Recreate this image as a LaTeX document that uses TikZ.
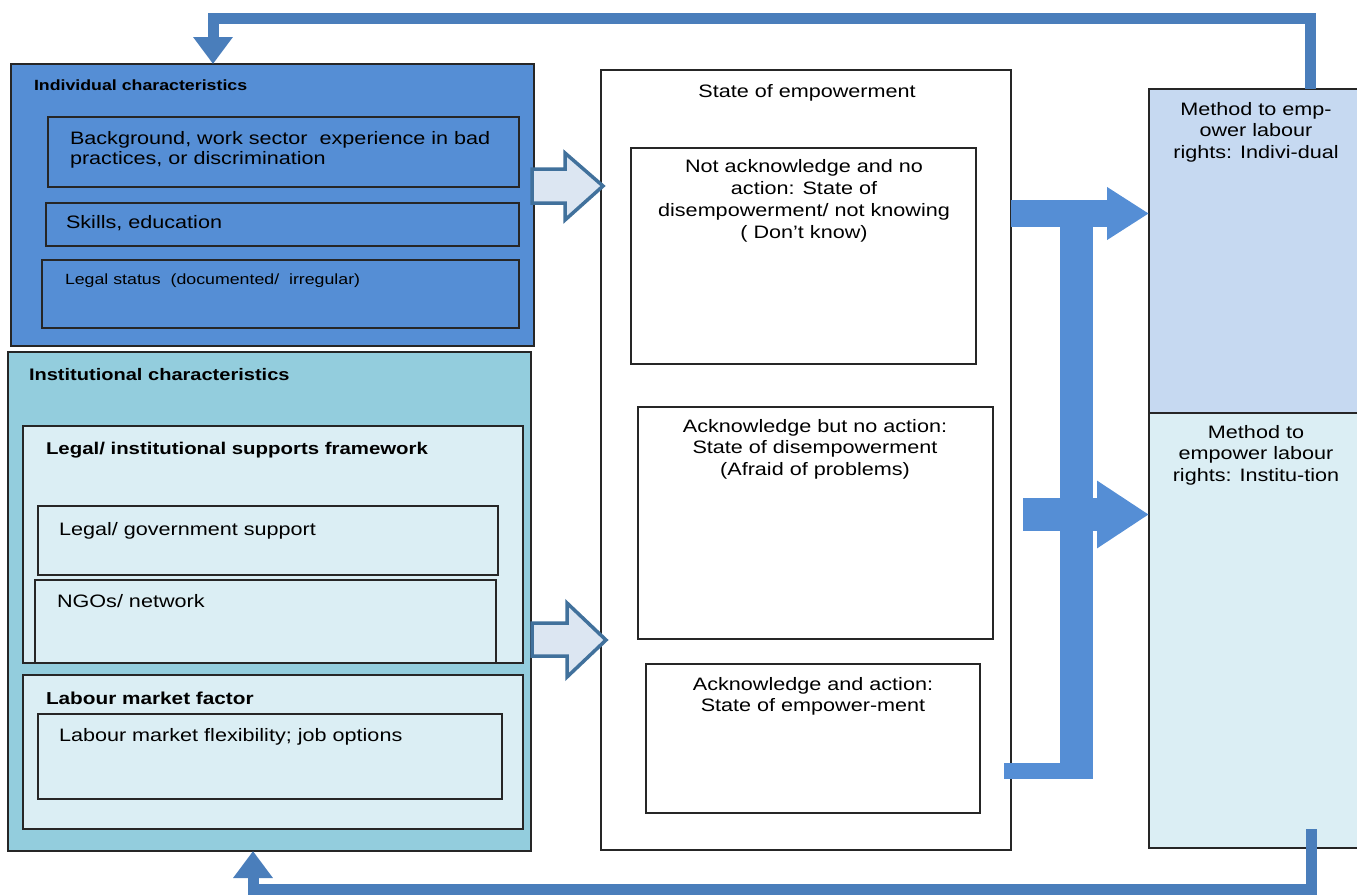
\documentclass[tikz,border=0pt]{standalone}
\usepackage{fontspec}
\setmainfont{Liberation Sans}[FakeStretch=1.2]
\usetikzlibrary{arrows.meta,calc}
\definecolor{indivc}{HTML}{558ED5}
\definecolor{instc}{HTML}{93CDDD}
\definecolor{lightc}{HTML}{DBEEF4}
\definecolor{methc}{HTML}{C6D9F1}
\definecolor{hollowf}{HTML}{DCE6F2}
\definecolor{hollowd}{HTML}{41719C}
\definecolor{fbc}{HTML}{4A7EBB}
\definecolor{solidc}{HTML}{558ED5}
\definecolor{linec}{HTML}{262626}
\begin{document}
\begin{tikzpicture}[x=1pt,y=-1pt,
  box/.style={draw=linec, line width=1.3pt, inner sep=0pt, outer sep=0pt, anchor=north west},
  txt/.style={inner sep=0pt, outer sep=0pt, anchor=base west, align=left, font=\fontsize{18}{20}\selectfont},
  ctxt/.style={inner sep=0pt, outer sep=0pt, anchor=base, align=center, font=\fontsize{18}{21.7}\selectfont},
  ttl/.style={inner sep=0pt, outer sep=0pt, anchor=base west, font=\bfseries\fontsize{#1}{20}\selectfont},
  hollow/.style={fill=hollowf, draw=hollowd, line width=3.5pt, line join=miter},
  fb/.style={draw=fbc, line width=11pt, line join=miter, -{Triangle[width=38pt,length=27pt]}},
  thick arrow/.style={draw=solidc, line width=#1}
]
\useasboundingbox (0,0) rectangle (1357,894);
\clip (0,0) rectangle (1357,894);

% Individual characteristics
\node[box, fill=indivc, minimum width=523pt, minimum height=282pt] (indiv) at (11,64) {};
\node[box, minimum width=471pt, minimum height=70pt] (ib1) at (48,117) {};
\node[box, minimum width=473pt, minimum height=43pt] (ib2) at (46,203) {};
\node[box, minimum width=477pt, minimum height=68pt] (ib3) at (42,260) {};
\node[ttl=14.8] (tindiv) at (34,90) {Individual characteristics};
% multi-line nodes: base anchor = last line baseline
\node[txt] (tib1) at (70,164) {Background, work sector\ \ experience in bad\\practices, or discrimination};
\node[txt] (tib2) at (66,228) {Skills, education};
\node[txt, font=\fontsize{14.8}{18}\selectfont] (tib3) at (65,284) {Legal status\ \ (documented/\ \ irregular)};

% Institutional characteristics
\node[box, fill=instc, minimum width=523pt, minimum height=499pt] (inst) at (8,352) {};
\node[box, fill=lightc, minimum width=500pt, minimum height=237pt] (frame) at (23,426) {};
\node[box, minimum width=460pt, minimum height=69pt] (lg) at (38,506) {};
\node[box, minimum width=461pt, minimum height=83pt] (ngo) at (35,580) {};
\node[box, fill=lightc, minimum width=500pt, minimum height=154pt] (lmf) at (23,675) {};
\node[box, minimum width=464pt, minimum height=85pt] (flex) at (38,714) {};
\node[ttl=16.7] (tinst) at (29,380) {Institutional characteristics};
\node[ttl=17] (tframe) at (46,454) {Legal/ institutional supports framework};
\node[txt] (tlg) at (59,535) {Legal/ government support};
\node[txt] (tngo) at (57,607) {NGOs/ network};
\node[ttl=17.3] (tlmf) at (46,704) {Labour market factor};
\node[txt] (tflex) at (59,741) {Labour market flexibility; job options};

% State of empowerment
\node[box, fill=white, minimum width=410pt, minimum height=780pt] (state) at (601,70) {};
\node[box, minimum width=345pt, minimum height=216pt] (sa) at (631,148) {};
\node[box, minimum width=355pt, minimum height=232pt] (sb) at (638,407) {};
\node[box, minimum width=334pt, minimum height=149pt] (sc) at (646,664) {};
\node[ctxt] (tstate) at (807,97) {State of empowerment};
\node[ctxt] (tsa) at (804,238) {Not acknowledge and no\\action: State of\\disempowerment/ not knowing\\( Don’t know)};
\node[ctxt] (tsb) at (815,475.4) {Acknowledge but no action:\\State of disempowerment\\(Afraid of problems)};
\node[ctxt] (tsc) at (813,711.7) {Acknowledge and action:\\State of empower-ment};

% Method boxes
\node[box, fill=methc, minimum width=220pt, minimum height=324pt] (mi) at (1149,89) {};
\node[box, fill=lightc, minimum width=220pt, minimum height=435pt] (mn) at (1149,413) {};
\node[ctxt] (tmi) at (1256,158.4) {Method to emp-\\ower labour\\rights: Indivi-dual};
\node[ctxt] (tmn) at (1256,481.4) {Method to\\empower labour\\rights: Institu-tion};

% hollow block arrows
\filldraw[hollow] (532,169) -- (565,169) -- (565,153) -- (603,186) -- (565,220) -- (565,203) -- (532,203) -- cycle;
\filldraw[hollow] (532,623) -- (567,623) -- (567,603) -- (606,640) -- (567,677) -- (567,656) -- (532,656) -- cycle;

% solid arrows from states to methods
\coordinate (ua) at (1011,213.5);
\coordinate (ma) at (1023,514.5);
\fill[solidc] (1060,200) rectangle (1093,779);
\fill[solidc] (1004,763) rectangle (1093,779);
\draw[thick arrow=27pt, -{Triangle[width=50pt,length=42pt]}] (ua) -- (mi.west |- ua);
\draw[thick arrow=33pt, -{Triangle[width=64pt,length=52pt]}] (ma) -- (mn.west |- ma);

% feedback loops
\coordinate (fbt) at (1310,18.5);
\coordinate (fbb) at (1311,889);
\draw[fb] (mi.north -| fbt) -- (fbt) -| (indiv.north -| 213,0);
\draw[fb] (1311,829) -- (fbb) -| (inst.south -| 253,0);
\end{tikzpicture}
\end{document}
